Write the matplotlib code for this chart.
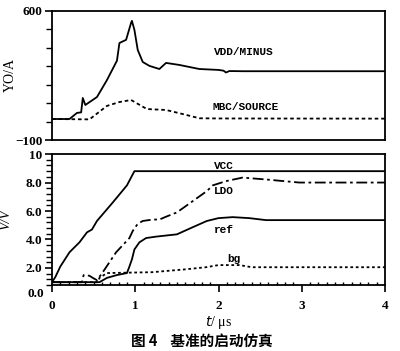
import matplotlib
matplotlib.use("Agg")
import matplotlib.pyplot as plt
from matplotlib.ticker import MultipleLocator

# ---- upper panel data (t in us, current in A) ----
vdd_t = [0.0, 0.21, 0.3, 0.35, 0.37, 0.4, 0.54, 0.66, 0.78, 0.81, 0.89, 0.95, 0.96,
         0.99, 1.03, 1.09, 1.17, 1.29, 1.37, 1.53, 1.77, 2.0, 2.06, 2.09, 2.13, 2.29, 4.0]
vdd_i = [14, 14, 47, 50, 128, 90, 133, 225, 330, 426, 443, 535, 546,
         497, 388, 323, 302, 285, 318, 307, 285, 280, 276, 266, 274, 273, 273]

mbc_t = [0.0, 0.45, 0.66, 0.81, 0.95, 1.14, 1.37, 1.57, 1.77, 2.0, 4.0]
mbc_i = [14, 12, 85, 106, 117, 68, 63, 41, 18, 17, 16]

# ---- lower panel data (t in us, voltage in V) ----
vcc_t = [0.0, 0.04, 0.1, 0.21, 0.33, 0.42, 0.48, 0.54, 0.73, 0.9, 0.99, 4.0]
vcc_v = [1.0, 1.36, 2.1, 3.1, 3.8, 4.5, 4.7, 5.3, 6.6, 7.8, 8.8, 8.8]

ldo_t = [0.0, 0.36, 0.38, 0.45, 0.49, 0.54, 0.61, 0.69, 0.77, 0.85, 0.93, 0.97, 1.03,
         1.09, 1.21, 1.29, 1.37, 1.5, 1.62, 1.74, 1.86, 1.93, 2.09, 2.29, 2.6, 2.97, 4.0]
ldo_v = [1.0, 1.0, 1.5, 1.45, 1.3, 1.14, 1.7, 2.4, 3.1, 3.6, 4.1, 4.6, 5.1,
         5.3, 5.4, 5.4, 5.6, 5.9, 6.4, 6.9, 7.4, 7.8, 8.1, 8.35, 8.2, 8.0, 8.0]

ref_t = [0.0, 0.57, 0.66, 0.78, 0.9, 0.93, 0.96, 0.99, 1.05, 1.13, 1.25, 1.5, 1.69,
         1.86, 2.0, 2.17, 2.37, 2.57, 4.0]
ref_v = [1.0, 1.0, 1.3, 1.5, 1.64, 2.1, 2.6, 3.3, 3.8, 4.1, 4.2, 4.36, 4.86,
         5.3, 5.5, 5.57, 5.5, 5.36, 5.36]

bg_t = [0.0, 0.55, 0.57, 0.66, 1.2, 1.6, 1.85, 2.0, 2.25, 2.4, 4.0]
bg_v = [1.0, 1.0, 1.3, 1.64, 1.7, 1.9, 2.05, 2.2, 2.2, 2.05, 2.05]

upper_labels = ["VDD/MINUS", "MBC/SOURCE"]
lower_labels = ["VCC", "LDO", "ref", "bg"]
x_ticks = [0, 1, 2, 3, 4]
lower_yticks = [2, 4, 6, 8, 10]
lower_yticklabels = ["2.0", "4.0", "6.0", "8.0", "10"]

plt.rcParams['font.family'] = ['Liberation Serif', 'DejaVu Sans']

fig = plt.figure(figsize=(4.0, 3.51), dpi=100)
ax1 = fig.add_axes([0.13, 0.601, 0.8325, 0.368])
ax2 = fig.add_axes([0.13, 0.188, 0.8325, 0.373])

lw = 1.3
tickfont = dict(family='Liberation Serif', weight='bold', size=9.5)
monofont = dict(family='Liberation Mono', weight='bold', size=8)

# upper
ax1.plot(vdd_t, vdd_i, color='black', lw=lw)
ax1.plot(mbc_t, mbc_i, color='black', lw=lw, linestyle=(0, (2, 1.6)))
ax1.set_xlim(0, 4)
ax1.set_ylim(-100, 600)
ax1.set_yticks([-100, 600])
ax1.set_yticklabels(["\u2212100", "600"], **tickfont)
ax1.yaxis.set_minor_locator(MultipleLocator(100))
ax1.set_xticks([])
ax1.tick_params(axis='y', which='major', direction='out', length=5, width=1.2, pad=2)
ax1.tick_params(axis='y', which='minor', direction='out', length=4, width=1.0)
ax1.set_ylabel("YO/A", fontdict=dict(family='Liberation Serif', size=10))
ax1.yaxis.set_label_coords(-0.105, 0.5)
ax1.text(1.95, 377, upper_labels[0], va='center', ha='left', **monofont)
ax1.text(1.93, 79, upper_labels[1], va='center', ha='left', **monofont)

# lower
ax2.plot(vcc_t, vcc_v, color='black', lw=lw)
ax2.plot(ldo_t, ldo_v, color='black', lw=lw, linestyle=(0, (6, 2, 1.5, 2)))
ax2.plot(ref_t, ref_v, color='black', lw=lw)
ax2.plot(bg_t, bg_v, color='black', lw=lw, linestyle=(0, (1.5, 1.5)))
ax2.set_xlim(0, 4)
ax2.set_ylim(0.8, 10)
ax2.set_yticks(lower_yticks)
ax2.set_yticklabels(lower_yticklabels, **tickfont)
ax2.yaxis.set_minor_locator(MultipleLocator(0.4))
ax2.set_xticks(x_ticks)
ax2.set_xticklabels([str(v) for v in x_ticks], **tickfont)
ax2.xaxis.set_minor_locator(MultipleLocator(0.1))
ax2.tick_params(axis='y', which='major', direction='out', length=5, width=1.2, pad=2)
ax2.tick_params(axis='y', which='minor', direction='out', length=4, width=1.0)
ax2.tick_params(axis='x', which='major', direction='out', length=5, width=1.2, pad=6)
ax2.tick_params(axis='x', which='minor', direction='in', length=2.5, width=1.0)
ax2.text(-0.09, 0.2, "0.0", ha='right', va='center', clip_on=False, **tickfont)
ax2.set_ylabel("V/V", fontdict=dict(family='Liberation Serif', style='italic', size=10))
ax2.yaxis.set_label_coords(-0.12, 0.5)
ax2.set_xlabel("$t$/ \u03bcs", fontdict=dict(family='Liberation Serif', size=10), labelpad=1)
ax2.text(1.95, 9.15, lower_labels[0], va='center', ha='left', **monofont)
ax2.text(1.95, 7.4, lower_labels[1], va='center', ha='left', **monofont)
ax2.text(1.95, 4.7, lower_labels[2], va='center', ha='left', **monofont)
ax2.text(2.1, 2.6, lower_labels[3], va='center', ha='left', **monofont)

for ax in (ax1, ax2):
    for s in ax.spines.values():
        s.set_linewidth(1.3)

fig.text(0.505, 0.03, "图 4    基准的启动仿真", ha='center', va='center',
         family=['Noto Sans CJK SC', 'DejaVu Sans'], weight='bold', size=10.5)

fig.savefig("out.png", dpi=100)
